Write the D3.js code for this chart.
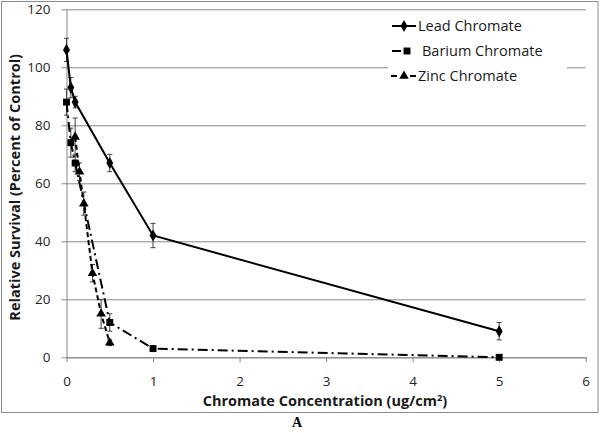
<!DOCTYPE html>
<html>
<head>
<meta charset="utf-8">
<script src="https://cdn.jsdelivr.net/npm/d3@7"></script>
<style>
  body { margin: 0; background: #fff; }
  svg { display: block; }
  text { font-family: "Open Sans", "Noto Sans", sans-serif; }
</style>
</head>
<body>
<div id="chart"></div>
<script>
// data
const leadX = [0, 0.05, 0.1, 0.5, 1, 5];
const leadY = [106, 93, 88, 67, 42, 9];
const leadErr = [4, 3.5, 2, 3, 4.2, 3];

const bariumX = [0, 0.05, 0.1, 0.5, 1, 5];
const bariumY = [88, 74, 67, 12, 3, 0];
const bariumErr = [4.5, 5, 3, 3, 1, 0.4];

const zincX = [0.1, 0.15, 0.2, 0.3, 0.4, 0.5];
const zincY = [76, 64, 53, 29, 15, 5];
const zincErr = [6.5, 3, 4, 3, 5, 1];

const xTicks = [0, 1, 2, 3, 4, 5, 6];
const yTicks = [0, 20, 40, 60, 80, 100, 120];
const seriesNames = ['Lead Chromate', 'Barium Chromate', 'Zinc Chromate'];

const W = 600, H = 433;
const plotL = 66.5, plotR = 585.7, plotT = 9.3, plotB = 357.3;

const svg = d3.select('#chart').append('svg')
    .attr('width', W)
    .attr('height', H);

// outer frame
svg.append('rect')
    .attr('x', 1.5).attr('y', 1.5)
    .attr('width', 596.5).attr('height', 411)
    .attr('fill', 'none')
    .attr('stroke', '#8c8c8c')
    .attr('stroke-width', 1);

const x = d3.scaleLinear().domain([0, 6]).range([plotL, plotR]);
const y = d3.scaleLinear().domain([0, 120]).range([plotB, plotT]);

// y axis + gridlines
const yAxis = svg.append('g')
    .attr('transform', `translate(${plotL},0)`)
    .call(d3.axisLeft(y).tickValues(yTicks).tickFormat(d3.format('d'))
        .tickSizeInner(-(plotR - plotL)).tickSizeOuter(0).tickPadding(16));
yAxis.select('.domain').attr('stroke', '#868686');
yAxis.selectAll('.tick line').attr('stroke', '#868686').attr('x1', -5);
yAxis.selectAll('.tick text')
    .attr('fill', '#262626')
    .style('font-size', '13.5px');

// x axis
const xAxis = svg.append('g')
    .attr('transform', `translate(0,${plotB})`)
    .call(d3.axisBottom(x).tickValues(xTicks).tickFormat(d3.format('d'))
        .tickSize(5).tickSizeOuter(0).tickPadding(14));
xAxis.select('.domain').attr('stroke', '#868686');
xAxis.selectAll('.tick line').attr('stroke', '#868686');
xAxis.selectAll('.tick text')
    .attr('fill', '#262626')
    .style('font-size', '13.5px');

// axis titles
svg.append('text')
    .attr('x', 325).attr('y', 406)
    .attr('text-anchor', 'middle')
    .style('font-size', '14.5px')
    .style('font-weight', 'bold')
    .attr('fill', '#1a1a1a')
    .html('Chromate Concentration (ug/cm<tspan dy="-5" font-size="9.5px">2</tspan><tspan dy="5">)</tspan>');

svg.append('text')
    .attr('transform', `translate(20,${(plotT + plotB) / 2 + 4}) rotate(-90)`)
    .attr('text-anchor', 'middle')
    .style('font-size', '14.5px')
    .style('font-weight', 'bold')
    .attr('fill', '#1a1a1a')
    .text('Relative Survival (Percent of Control)');

svg.append('text')
    .attr('x', 297).attr('y', 427)
    .attr('text-anchor', 'middle')
    .style('font-family', '"Liberation Serif", serif')
    .style('font-size', '14px')
    .style('font-weight', 'bold')
    .text('A');

// legend background hides gridlines behind it
svg.append('rect')
    .attr('x', 388).attr('y', 12)
    .attr('width', 179).attr('height', 88)
    .attr('fill', '#fff');

const series = [
    { name: seriesNames[0], xs: leadX, ys: leadY, err: leadErr, dash: null, shape: d3.symbolDiamond, size: 42 },
    { name: seriesNames[1], xs: bariumX, ys: bariumY, err: bariumErr, dash: '10,4,2,4', shape: d3.symbolSquare, size: 48 },
    { name: seriesNames[2], xs: zincX, ys: zincY, err: zincErr, dash: '5,3', shape: d3.symbolTriangle, size: 40 }
];

const line = d3.line().x(d => x(d[0])).y(d => y(d[1]));

series.forEach(s => {
    const pts = s.xs.map((v, i) => [v, s.ys[i], s.err[i]]);
    const g = svg.append('g');

    // error bars
    const eb = g.selectAll('.eb').data(pts).enter().append('g').attr('class', 'eb');
    eb.append('line')
        .attr('x1', d => x(d[0])).attr('x2', d => x(d[0]))
        .attr('y1', d => y(d[1] - d[2])).attr('y2', d => y(d[1] + d[2]));
    eb.append('line')
        .attr('x1', d => x(d[0]) - 2.5).attr('x2', d => x(d[0]) + 2.5)
        .attr('y1', d => y(d[1] + d[2])).attr('y2', d => y(d[1] + d[2]));
    eb.append('line')
        .attr('x1', d => x(d[0]) - 2.5).attr('x2', d => x(d[0]) + 2.5)
        .attr('y1', d => y(d[1] - d[2])).attr('y2', d => y(d[1] - d[2]));
    eb.selectAll('line').attr('stroke', '#404040').attr('stroke-width', 1);

    g.append('path')
        .datum(pts)
        .attr('d', line)
        .attr('fill', 'none')
        .attr('stroke', '#000')
        .attr('stroke-width', 2)
        .attr('stroke-dasharray', s.dash);

    g.selectAll('.pt').data(pts).enter().append('path')
        .attr('transform', d => `translate(${x(d[0])},${y(d[1])})`)
        .attr('d', d3.symbol().type(s.shape).size(s.size))
        .attr('fill', '#000');
});

// legend
const legendY = [26, 51, 76];
const lg = svg.append('g');
series.forEach((s, i) => {
    const row = lg.append('g').attr('transform', `translate(0,${legendY[i]})`);
    if (i === 0) {
        row.append('line').attr('x1', 392).attr('x2', 416).attr('stroke', '#000').attr('stroke-width', 2);
    } else if (i === 1) {
        row.append('line').attr('x1', 392).attr('x2', 401).attr('stroke', '#000').attr('stroke-width', 2);
    } else {
        row.append('line').attr('x1', 391).attr('x2', 397).attr('stroke', '#000').attr('stroke-width', 2);
        row.append('line').attr('x1', 410).attr('x2', 416).attr('stroke', '#000').attr('stroke-width', 2);
    }
    row.append('path')
        .attr('transform', `translate(${i === 1 ? 407 : 404},0)`)
        .attr('d', d3.symbol().type(s.shape).size(s.size))
        .attr('fill', '#000');
    row.append('text')
        .attr('x', i === 1 ? 422 : 418)
        .attr('y', 5)
        .style('font-size', '14.5px')
        .attr('fill', '#1a1a1a')
        .text(s.name);
});
</script>
</body>
</html>
